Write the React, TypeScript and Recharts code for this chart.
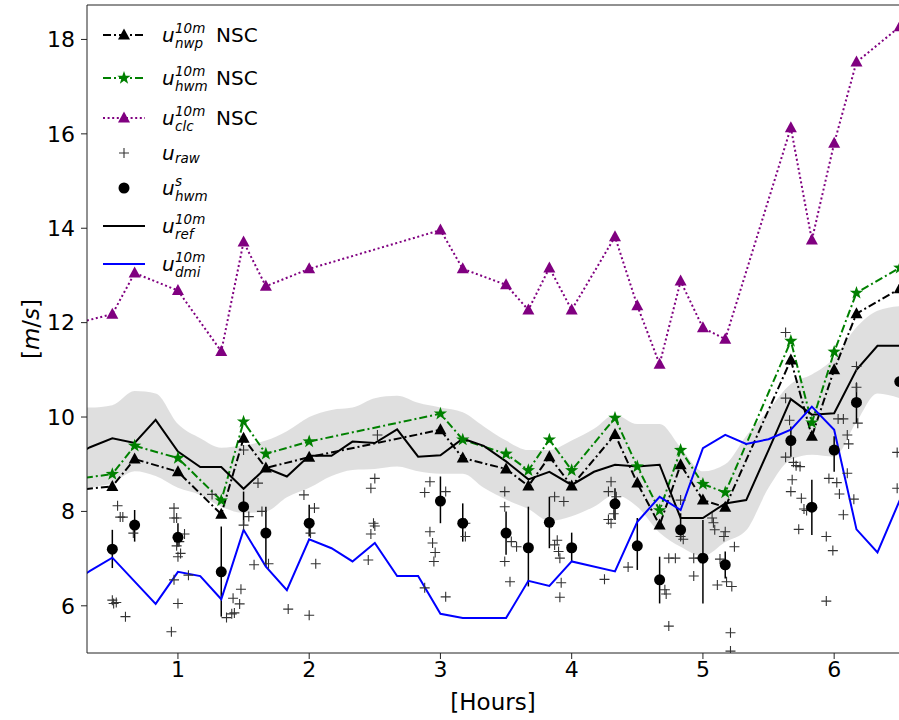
import React from "react";
import { ComposedChart, Line, Area, Scatter, XAxis, YAxis, ErrorBar, ReferenceLine } from "recharts";

const FONT = "'DejaVu Sans', sans-serif";

// NSC model series share the same times (first point lies left of the visible window)
const nscHours = [0.17, 0.5, 0.67, 1, 1.33, 1.5, 1.67, 2, 3, 3.17, 3.5, 3.67, 3.83, 4, 4.33, 4.5, 4.67, 4.83, 5, 5.17, 5.67, 5.83, 6, 6.17, 6.5];
const nwpNsc = [8.44, 8.53, 9.11, 8.84, 7.94, 9.55, 8.92, 9.15, 9.73, 9.13, 8.9, 8.54, 9.16, 8.54, 9.63, 8.6, 7.71, 8.99, 8.24, 8.09, 11.21, 9.59, 11.0, 12.19, 12.72];
const hwmNsc = [8.67, 8.79, 9.39, 9.13, 8.23, 9.9, 9.22, 9.48, 10.07, 9.52, 9.22, 8.87, 9.52, 8.87, 9.98, 8.95, 8.02, 9.3, 8.58, 8.4, 11.61, 9.88, 11.38, 12.63, 13.16];
const clcNsc = [11.95, 12.18, 13.05, 12.68, 11.39, 13.71, 12.77, 13.14, 13.96, 13.14, 12.8, 12.27, 13.16, 12.27, 13.82, 12.36, 11.12, 12.88, 11.89, 11.65, 16.13, 13.75, 15.8, 17.52, 18.27];

// reference wind and its spread band
const refHours = [0.17, 0.33, 0.5, 0.67, 0.83, 1, 1.17, 1.33, 1.5, 1.67, 1.83, 2, 2.17, 2.33, 2.5, 2.67, 2.83, 3, 3.17, 3.33, 3.5, 3.67, 3.83, 4, 4.17, 4.33, 4.5, 4.67, 4.83, 5, 5.17, 5.33, 5.5, 5.67, 5.83, 6, 6.17, 6.33, 6.5];
const refValues = [9.13, 9.36, 9.55, 9.45, 9.94, 9.27, 8.94, 8.94, 8.48, 8.92, 8.74, 9.18, 9.18, 9.48, 9.45, 9.74, 9.16, 9.19, 9.54, 9.39, 9.06, 8.68, 8.84, 8.56, 8.84, 8.99, 8.95, 8.99, 7.86, 7.86, 8.17, 8.24, 9.3, 10.38, 10.05, 10.08, 11.0, 11.51, 11.51];
const bandLow = [8.4, 8.5, 8.6, 8.85, 8.75, 8.5, 8.35, 8.1, 7.97, 8.0, 8.3, 8.5, 8.75, 8.88, 8.9, 8.95, 8.85, 8.8, 8.8, 8.5, 8.25, 8.05, 7.8, 7.9, 8.1, 8.35, 8.1, 7.55, 7.25, 7.05, 7.35, 7.6, 8.5, 9.1, 9.2, 9.16, 9.9, 10.5, 10.4];
const bandHigh = [10.2, 10.2, 10.25, 10.55, 10.5, 9.85, 9.55, 9.35, 9.4, 9.5, 9.7, 10.0, 10.15, 10.2, 10.4, 10.45, 10.3, 10.2, 10.1, 9.8, 9.5, 9.3, 9.3, 9.5, 9.75, 10.05, 9.85, 9.85, 9.35, 8.85, 9.0, 9.6, 10.15, 10.7, 10.9, 11.25, 11.9, 12.25, 12.35];

// DMI forecast
const dmiHours = [0.17, 0.33, 0.5, 0.83, 1, 1.17, 1.33, 1.5, 1.67, 1.83, 2, 2.17, 2.33, 2.5, 2.67, 2.83, 3, 3.17, 3.33, 3.5, 3.67, 3.83, 4, 4.33, 4.5, 4.67, 4.83, 5, 5.17, 5.33, 5.5, 5.67, 5.83, 6, 6.17, 6.33, 6.5];
const dmiValues = [6.45, 6.74, 7.02, 6.04, 6.72, 6.63, 6.14, 7.61, 6.83, 6.33, 7.41, 7.22, 6.94, 7.33, 6.63, 6.63, 5.83, 5.74, 5.74, 5.74, 6.53, 6.42, 6.94, 6.73, 7.78, 8.31, 8.03, 9.34, 9.62, 9.43, 9.53, 9.73, 10.22, 9.73, 7.62, 7.13, 8.24];

// smoothed hwm measurements with spread
const hwmsHours = [0.5, 0.67, 1, 1.33, 1.5, 1.67, 2, 3, 3.17, 3.5, 3.67, 3.83, 4, 4.33, 4.5, 4.67, 4.83, 5, 5.17, 5.67, 5.83, 6, 6.17, 6.5];
const hwmsValues = [7.2, 7.71, 7.45, 6.72, 8.1, 7.54, 7.75, 8.22, 7.75, 7.54, 7.23, 7.77, 7.23, 8.16, 7.27, 6.55, 7.61, 7.01, 6.87, 9.5, 8.09, 9.3, 10.31, 10.75];
const hwmsLow = [6.8, 7.36, 7.25, 5.77, 7.71, 6.83, 7.47, 7.75, 7.36, 7.08, 6.41, 7.22, 6.94, 7.82, 6.76, 6.05, 7.39, 6.05, 6.58, 9.16, 7.5, 8.84, 9.87, 10.4];
const hwmsHigh = [7.61, 8.03, 7.75, 7.68, 8.42, 8.1, 8.14, 8.74, 8.17, 8.0, 8.1, 8.31, 7.55, 8.49, 7.86, 7.04, 7.96, 7.82, 7.15, 9.8, 8.67, 9.59, 10.72, 11.1];

// raw samples
const rawHours = [0.54, 0.56, 0.58, 0.66, 0.5, 0.51, 0.53, 0.6,
  0.97, 0.97, 0.99, 1.05, 1.01, 0.99, 1.02, 1.0, 1.08, 0.97, 1.0, 0.95, 1.26,
  1.37, 1.41, 1.43, 1.42, 1.47, 1.48, 1.5, 1.54, 1.5, 1.61, 1.64, 1.58, 1.69, 1.84,
  1.96, 2.04, 2.01, 2.05, 2.0,
  2.52, 2.5, 2.47, 2.49, 2.5, 2.47, 2.45,
  2.92, 2.88, 3.04, 2.92, 2.94, 2.96, 2.95, 2.88, 3.04, 3.19, 3.19,
  3.49, 3.49, 3.54, 3.58, 3.49, 3.53,
  3.87, 3.94, 3.89, 3.87, 3.9, 3.91, 3.92, 3.91,
  4.3, 4.28, 4.34, 4.28, 4.3, 4.32, 4.25, 4.43,
  4.71, 4.72, 4.74, 4.74, 4.79, 4.83, 4.83, 4.85, 4.93, 4.98, 4.93,
  5.07, 5.08, 5.09, 5.17, 5.16, 5.24, 5.13, 5.11, 5.18, 5.22, 5.21, 5.21,
  5.63, 5.63, 5.66, 5.63, 5.69, 5.71, 5.74, 5.68, 5.67, 5.75, 5.77, 5.79, 5.73,
  5.94, 5.99, 5.94, 5.96, 6.02, 6.04, 6.07, 6.1, 6.1, 6.11, 6.03, 6.07, 6.15, 6.17, 6.18, 6.17, 6.48, 6.48];
const rawValues = [8.12, 7.88, 7.88, 7.54, 6.12, 6.05, 6.07, 5.77,
  8.07, 7.86, 7.86, 7.52, 7.36, 7.27, 7.11, 7.04, 6.65, 6.55, 6.05, 5.45, 8.36,
  5.75, 5.83, 5.85, 6.16, 6.04, 6.35, 9.3, 7.89, 7.71, 8.6, 8.0, 6.87, 6.89, 5.93,
  8.35, 8.07, 7.54, 6.89, 5.8,
  9.62, 8.7, 8.49, 7.75, 7.69, 7.52, 6.97,
  8.63, 8.4, 8.42, 7.57, 7.33, 7.13, 6.94, 6.38, 6.19, 7.75, 7.47,
  8.42, 8.1, 7.36, 7.25, 6.94, 6.51,
  8.31, 8.21, 7.39, 7.29, 7.15, 7.01, 6.49, 6.18,
  8.63, 8.42, 8.31, 7.83, 7.75, 7.95, 6.56, 6.82,
  6.34, 6.25, 5.57, 7.01, 7.01, 8.24, 7.47, 7.41, 7.01, 7.01, 6.63,
  7.86, 7.76, 7.61, 7.57, 7.47, 7.25, 6.99, 6.44, 6.51, 6.41, 5.43, 5.04,
  11.79, 10.4, 9.93, 9.15, 9.04, 8.97, 8.95, 8.67, 8.42, 8.28, 8.05, 8.02, 7.62,
  7.47, 7.17, 6.1, 8.7, 8.61, 8.37, 7.93, 8.81, 9.62, 9.43, 9.96, 9.96, 8.26, 10.63, 9.87, 11.07, 9.25, 8.49];

const xTicks = [1, 2, 3, 4, 5, 6];
const yTicks = [6, 8, 10, 12, 14, 16, 18];

const toPts = (hs: number[], vs: number[]) => hs.map((h, i) => ({ h, v: vs[i] }));
const nwpData = toPts(nscHours, nwpNsc);
const hwmData = toPts(nscHours, hwmNsc);
const clcData = toPts(nscHours, clcNsc);
const refData = toPts(refHours, refValues);
const dmiData = toPts(dmiHours, dmiValues);
const bandData = refHours.map((h, i) => ({ h, band: [bandLow[i], bandHigh[i]] }));
const rawData = toPts(rawHours, rawValues);
const hwmsData = hwmsHours.map((h, i) => ({
  h,
  v: hwmsValues[i],
  err: [hwmsValues[i] - hwmsLow[i], hwmsHigh[i] - hwmsValues[i]],
}));

const triPath = (cx: number, cy: number) => `M${cx},${cy - 6.5}L${cx + 6},${cy + 4.5}L${cx - 6},${cy + 4.5}Z`;
const starPath = (cx: number, cy: number, r = 7) => {
  const p: string[] = [];
  for (let i = 0; i < 10; i++) {
    const rr = i % 2 === 0 ? r : r * 0.4;
    const a = -Math.PI / 2 + (i * Math.PI) / 5;
    p.push(`${(cx + rr * Math.cos(a)).toFixed(2)},${(cy + rr * Math.sin(a)).toFixed(2)}`);
  }
  return "M" + p.join("L") + "Z";
};
const plusPath = (cx: number, cy: number, r = 5) => `M${cx - r},${cy}H${cx + r}M${cx},${cy - r}V${cy + r}`;

const triDot = (color: string) => (props: any) => {
  const { cx, cy, index } = props;
  if (cx == null || cy == null) return <g key={`t${color}${index}`} />;
  return <path key={`t${color}${index}`} d={triPath(cx, cy)} fill={color} />;
};
const starDot = (props: any) => {
  const { cx, cy, index } = props;
  if (cx == null || cy == null) return <g key={`s${index}`} />;
  return <path key={`s${index}`} d={starPath(cx, cy)} fill="#008000" />;
};
const plusShape = (props: any) => <path d={plusPath(props.cx, props.cy)} stroke="#333" strokeWidth={1.1} fill="none" />;
const circleShape = (props: any) => <circle cx={props.cx} cy={props.cy} r={5.5} fill="#000" />;

const yTitle = () => (
  <text x={31} y={329} transform="rotate(-90 31 329)" textAnchor="middle" dominantBaseline="central" fontSize={23} fontFamily={FONT} fill="#000">
    [<tspan fontStyle="italic">m</tspan>/<tspan fontStyle="italic">s</tspan>]
  </text>
);

// u with stacked superscript / subscript, like matplotlib mathtext
function MathText({ y, sup, sub, tail }: { y: number; sup?: string; sub: string; tail?: string }) {
  const x = 162;
  return (
    <g fontFamily={FONT} fill="#000">
      <text x={x} y={y + 6.5} fontSize={20} fontStyle="italic">u</text>
      {sup && <text x={x + 13} y={y - 2.5} fontSize={13.5} fontStyle="italic">{sup}</text>}
      <text x={x + 13} y={sup ? y + 13 : y + 9.5} fontSize={13.5} fontStyle="italic">{sub}</text>
      {tail && <text x={216} y={y + 7} fontSize={20}>{tail}</text>}
    </g>
  );
}

function LegendBox() {
  const hx0 = 103, hx1 = 145, mx = 124;
  return (
    <svg width={300} height={290} style={{ position: "absolute", left: 0, top: 0 }}>
      <line x1={hx0} x2={hx1} y1={35} y2={35} stroke="#000" strokeWidth={2} strokeDasharray="8 3 2 3" />
      <path d={triPath(mx, 35)} fill="#000" />
      <MathText y={35} sup="10m" sub="nwp" tail="NSC" />

      <line x1={hx0} x2={hx1} y1={78} y2={78} stroke="#008000" strokeWidth={2} strokeDasharray="8 3 2 3" />
      <path d={starPath(mx, 78)} fill="#008000" />
      <MathText y={78} sup="10m" sub="hwm" tail="NSC" />

      <line x1={hx0} x2={hx1} y1={118} y2={118} stroke="#800080" strokeWidth={2} strokeDasharray="2 2.6" />
      <path d={triPath(mx, 118)} fill="#800080" />
      <MathText y={118} sup="10m" sub="clc" tail="NSC" />

      <path d={plusPath(mx, 153)} stroke="#333" strokeWidth={1.1} />
      <MathText y={153} sub="raw" />

      <circle cx={mx} cy={188} r={5.5} fill="#000" />
      <MathText y={188} sup="s" sub="hwm" />

      <line x1={hx0} x2={hx1} y1={226} y2={226} stroke="#000" strokeWidth={2} />
      <MathText y={226} sup="10m" sub="ref" />

      <line x1={hx0} x2={hx1} y1={264} y2={264} stroke="#0000ff" strokeWidth={2} />
      <MathText y={264} sup="10m" sub="dmi" />
    </svg>
  );
}

export default function App() {
  const tickStyle = { fontSize: 22, fill: "#000", fontFamily: FONT };
  return (
    <div style={{ position: "absolute", left: 0, top: 0, width: 899, height: 720, background: "#fff" }}>
      <ComposedChart width={899} height={720} margin={{ top: 5, right: 0, bottom: 0, left: 0 }}>
        <XAxis
          type="number"
          dataKey="h"
          domain={[0.307, 6.494]}
          allowDataOverflow
          ticks={xTicks}
          height={67}
          tickSize={6}
          tick={tickStyle}
          stroke="#222"
          label={{ value: "[Hours]", position: "insideBottom", offset: 10, fontSize: 23, fill: "#000", fontFamily: FONT }}
        />
        <YAxis
          type="number"
          domain={[5, 18.73]}
          allowDataOverflow
          ticks={yTicks}
          width={87}
          tickSize={6}
          tickMargin={6}
          tick={tickStyle}
          stroke="#222"
          label={{ content: yTitle }}
        />
        <ReferenceLine y={18.73} stroke="#222" ifOverflow="visible" />
        <Area data={bandData} dataKey="band" type="monotone" stroke="none" fill="#d9d9d9" fillOpacity={0.85} isAnimationActive={false} />
        <Line data={nwpData} dataKey="v" type="linear" stroke="#000" strokeWidth={2} strokeDasharray="8 3 2 3" dot={triDot("#000")} activeDot={false} isAnimationActive={false} />
        <Line data={hwmData} dataKey="v" type="linear" stroke="#008000" strokeWidth={2} strokeDasharray="8 3 2 3" dot={starDot} activeDot={false} isAnimationActive={false} />
        <Line data={clcData} dataKey="v" type="linear" stroke="#800080" strokeWidth={2} strokeDasharray="2 2.6" dot={triDot("#800080")} activeDot={false} isAnimationActive={false} />
        <Scatter data={rawData} dataKey="v" shape={plusShape} isAnimationActive={false} />
        <Scatter data={hwmsData} dataKey="v" shape={circleShape} isAnimationActive={false}>
          <ErrorBar dataKey="err" direction="y" width={0} stroke="#000" strokeWidth={1.5} />
        </Scatter>
        <Line data={refData} dataKey="v" type="linear" stroke="#000" strokeWidth={2} dot={false} activeDot={false} isAnimationActive={false} />
        <Line data={dmiData} dataKey="v" type="linear" stroke="#0000ff" strokeWidth={2} dot={false} activeDot={false} isAnimationActive={false} />
      </ComposedChart>
      <LegendBox />
    </div>
  );
}
